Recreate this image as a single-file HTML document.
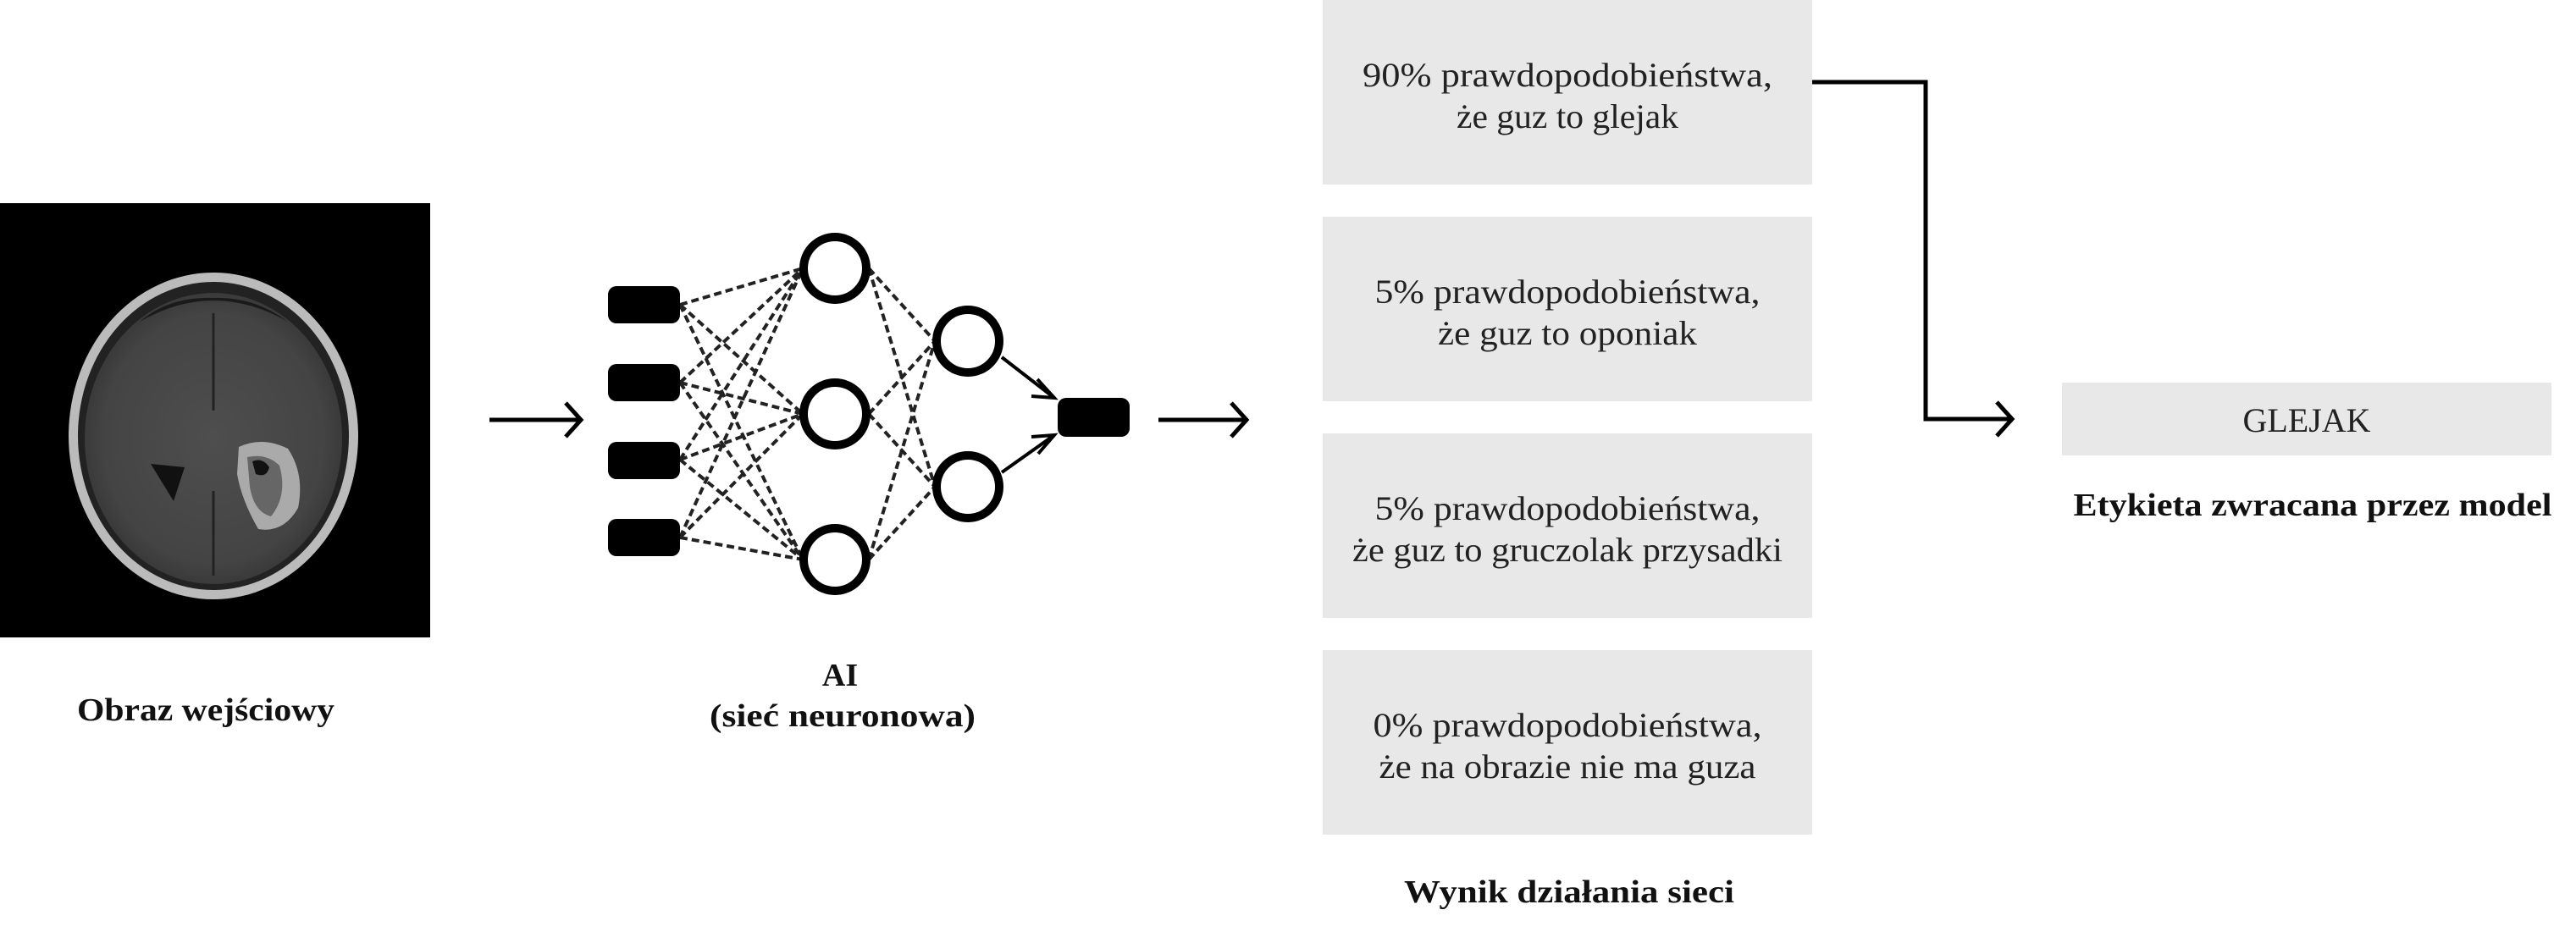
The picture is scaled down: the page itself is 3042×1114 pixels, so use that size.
<!DOCTYPE html>
<html><head><meta charset="utf-8"><style>
html,body{margin:0;padding:0;background:#fff;}
svg{display:block}
.t{font-family:"Liberation Serif",serif;font-size:40px;fill:#222;}
.b{font-family:"Liberation Serif",serif;font-size:38px;font-weight:bold;fill:#111;}
</style></head><body>
<svg width="3042" height="1114" viewBox="0 0 3042 1114" xmlns="http://www.w3.org/2000/svg">
<defs>
<radialGradient id="br" cx="0.5" cy="0.5" r="0.5">
<stop offset="0" stop-color="#4e4e4e"/><stop offset="0.85" stop-color="#444"/><stop offset="1" stop-color="#3a3a3a"/>
</radialGradient>
</defs>
<rect x="0" y="240" width="508" height="513" fill="#000"/>
<ellipse cx="252" cy="515" rx="171" ry="193" fill="#bbb"/>
<ellipse cx="252" cy="515" rx="160" ry="182" fill="#222"/>
<ellipse cx="252" cy="518" rx="152" ry="172" fill="url(#br)"/>
<path d="M165 380 Q252 330 340 380 Q300 350 252 352 Q200 350 165 380Z" fill="#1a1a1a"/>
<line x1="252" y1="370" x2="252" y2="485" stroke="#222" stroke-width="3"/>
<line x1="252" y1="580" x2="252" y2="680" stroke="#222" stroke-width="3"/>
<path d="M178 548 L218 552 L205 592 Z" fill="#111"/>
<path d="M282 528 Q310 515 340 530 Q360 560 352 600 Q335 630 305 625 Q285 590 280 560 Z" fill="#aaa"/>
<path d="M292 540 Q315 535 330 550 Q340 585 320 610 Q300 605 295 575 Z" fill="#666"/>
<path d="M298 545 Q310 540 318 552 Q315 565 302 560 Z" fill="#111"/>
<line x1="578" y1="496" x2="686" y2="496" stroke="#000" stroke-width="5"/>
<polyline points="668,476 686,496 668,516" fill="none" stroke="#000" stroke-width="5"/>
<g stroke="#222" stroke-width="4" stroke-dasharray="9,5" fill="none">
<line x1="803" y1="360" x2="948" y2="317"/><line x1="803" y1="360" x2="948" y2="489"/><line x1="803" y1="360" x2="948" y2="661"/>
<line x1="803" y1="452" x2="948" y2="317"/><line x1="803" y1="452" x2="948" y2="489"/><line x1="803" y1="452" x2="948" y2="661"/>
<line x1="803" y1="543" x2="948" y2="317"/><line x1="803" y1="543" x2="948" y2="489"/><line x1="803" y1="543" x2="948" y2="661"/>
<line x1="803" y1="635" x2="948" y2="317"/><line x1="803" y1="635" x2="948" y2="489"/><line x1="803" y1="635" x2="948" y2="661"/>
<line x1="1026" y1="317" x2="1104" y2="403"/><line x1="1026" y1="317" x2="1104" y2="575"/>
<line x1="1026" y1="489" x2="1104" y2="403"/><line x1="1026" y1="489" x2="1104" y2="575"/>
<line x1="1026" y1="661" x2="1104" y2="403"/><line x1="1026" y1="661" x2="1104" y2="575"/>
</g>
<g fill="#000">
<rect x="718" y="338" width="85" height="44" rx="10"/>
<rect x="718" y="430" width="85" height="44" rx="10"/>
<rect x="718" y="522" width="85" height="44" rx="10"/>
<rect x="718" y="613" width="85" height="44" rx="10"/>
<rect x="1249" y="470" width="85" height="46" rx="10"/>
</g>
<g fill="#fff" stroke="#000" stroke-width="10">
<circle cx="986" cy="317" r="37"/><circle cx="986" cy="489" r="37"/><circle cx="986" cy="661" r="37"/>
<circle cx="1143" cy="403" r="37"/><circle cx="1143" cy="575" r="37"/>
</g>
<g stroke="#000" stroke-width="4" fill="none">
<line x1="1183" y1="422" x2="1245" y2="470"/><polyline points="1225,448 1245,470 1218,468"/>
<line x1="1183" y1="558" x2="1245" y2="514"/><polyline points="1218,516 1245,514 1226,536"/>
</g>
<line x1="1368" y1="496" x2="1472" y2="496" stroke="#000" stroke-width="5"/>
<polyline points="1454,476 1472,496 1454,516" fill="none" stroke="#000" stroke-width="5"/>
<text class="b" x="243" y="851" text-anchor="middle" textLength="304" lengthAdjust="spacingAndGlyphs">Obraz wejściowy</text>
<text class="b" x="992" y="810" text-anchor="middle">AI</text>
<text class="b" x="995" y="858" text-anchor="middle" textLength="314" lengthAdjust="spacingAndGlyphs">(sieć neuronowa)</text>
<g fill="#e8e8e8">
<rect x="1562" y="0" width="578" height="218"/>
<rect x="1562" y="256" width="578" height="218"/>
<rect x="1562" y="512" width="578" height="218"/>
<rect x="1562" y="768" width="578" height="218"/>
<rect x="2435" y="452" width="578" height="86"/>
</g>
<g class="t" text-anchor="middle">
<text x="1851" y="102" textLength="484" lengthAdjust="spacingAndGlyphs">90% prawdopodobieństwa,</text>
<text x="1851" y="151" textLength="262" lengthAdjust="spacingAndGlyphs">że guz to glejak</text>
<text x="1851" y="358" textLength="455" lengthAdjust="spacingAndGlyphs">5% prawdopodobieństwa,</text>
<text x="1851" y="407" textLength="306" lengthAdjust="spacingAndGlyphs">że guz to oponiak</text>
<text x="1851" y="614" textLength="455" lengthAdjust="spacingAndGlyphs">5% prawdopodobieństwa,</text>
<text x="1851" y="663" textLength="508" lengthAdjust="spacingAndGlyphs">że guz to gruczolak przysadki</text>
<text x="1851" y="870" textLength="459" lengthAdjust="spacingAndGlyphs">0% prawdopodobieństwa,</text>
<text x="1851" y="919" textLength="445" lengthAdjust="spacingAndGlyphs">że na obrazie nie ma guza</text>
<text x="2724" y="510" textLength="151" lengthAdjust="spacingAndGlyphs">GLEJAK</text>
</g>
<text class="b" x="1853" y="1066" text-anchor="middle" textLength="390" lengthAdjust="spacingAndGlyphs">Wynik działania sieci</text>
<text class="b" x="2731" y="609" text-anchor="middle" textLength="565" lengthAdjust="spacingAndGlyphs">Etykieta zwracana przez model</text>
<polyline points="2140,97 2274,97 2274,495 2376,495" fill="none" stroke="#000" stroke-width="5"/>
<polyline points="2358,475 2376,495 2358,515" fill="none" stroke="#000" stroke-width="5"/>
</svg>
</body></html>
